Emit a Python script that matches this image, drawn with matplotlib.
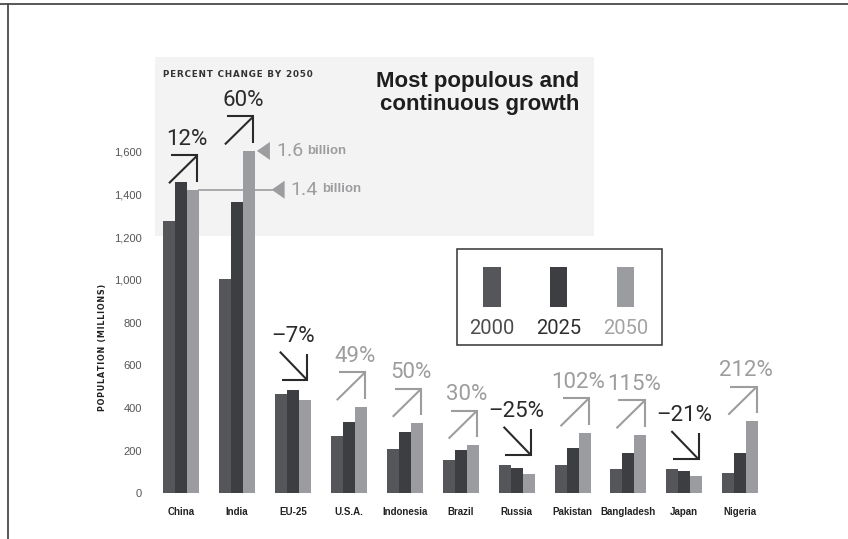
import numpy as np
import matplotlib.pyplot as plt
from matplotlib.patches import Rectangle, Polygon
from matplotlib.lines import Line2D
from matplotlib.transforms import ScaledTranslation

# population in millions
countries = ["China", "India", "EU-25", "U.S.A.", "Indonesia", "Brazil",
             "Russia", "Pakistan", "Bangladesh", "Japan", "Nigeria"]
years = ["2000", "2025", "2050"]
pop_2000 = [1276, 1003, 465, 270, 206, 157, 132, 131, 112, 112, 95]
pop_2025 = [1457, 1366, 484, 336, 285, 205, 116, 214, 188, 104, 190]
pop_2050 = [1423, 1605, 435, 406, 328, 226, 92, 284, 274, 80, 338]
pct_change = [12, 60, -7, 49, 50, 30, -25, 102, 115, -21, 212]
yticks = [0, 200, 400, 600, 800, 1000, 1200, 1400, 1600]

bar_colors = ["#55565a", "#3d3e42", "#9b9c9f"]
year_colors = ["#4c4c4e", "#2e2e30", "#a3a3a5"]
dark = "#2a2a2a"
light = "#9d9d9f"
W, H = 848, 539

fig = plt.figure(figsize=(W / 100, H / 100), dpi=100)
fig.patch.set_facecolor("white")

def fx(px):
    return px / W

def fy(py):
    return (H - py) / H

ax = fig.add_axes([fx(150), fy(499), fx(775) - fx(150), fy(40) - fy(499)])
ax.set_facecolor("none")
ax.set_xlim(-0.554, 10.62)
ax.set_ylim(-27, 2125)
for s in ax.spines.values():
    s.set_visible(False)

# grey panel behind the two giants
ax.add_patch(Rectangle((fx(155), fy(236)), fx(594) - fx(155), fy(57) - fy(236),
                       transform=fig.transFigure, facecolor="#f3f3f3",
                       edgecolor="none", zorder=0, clip_on=False))

x = np.arange(len(countries))
bw = 0.2145
series = [pop_2000, pop_2025, pop_2050]
for i, vals in enumerate(series):
    ax.bar(x + (i - 1) * bw, vals, width=bw, color=bar_colors[i], zorder=2)

ax.set_xticks(x)
ax.set_xticklabels(countries, fontsize=7, fontweight="bold", color="#222222",
                   family="Liberation Sans")
ax.set_yticks(yticks)
ax.set_yticklabels([f"{v:,}" for v in yticks], fontsize=8, color="#555555",
                   family="Liberation Sans")
ax.tick_params(length=0)
ax.tick_params(axis="x", pad=5.5)
ax.tick_params(axis="y", pad=6)

fig.text(fx(102.5), fy(347), "\u200a".join("POPULATION (MILLIONS)"), rotation=90,
         ha="center", va="center", fontsize=5.8, fontweight="bold", color="#222222")


def anchored(xd, yd):
    # offsets given in pixels/100 (inches) from a data point
    return fig.dpi_scale_trans + ScaledTranslation(xd, yd, ax.transData)


pct_font = dict(family=["Roboto", "DejaVu Sans"], fontweight="normal", fontsize=16)

for i, p in enumerate(pct_change):
    top = max(pop_2000[i], pop_2025[i], pop_2050[i])
    c = dark if (p < 0 or pop_2050[i] > 1000) else light
    if p >= 0:
        tr = anchored(x[i], pop_2050[i])
        shaft = [(-12, 6.5), (16.5, 34.5)]
        head = [(-10, 34.5), (16.5, 34.5), (16.5, 8)]
        tx, ty = 6, 45
    else:
        tr = anchored(x[i], top)
        shaft = [(-13, 38.3), (14.3, 10)]
        head = [(-11.3, 10), (14.3, 10), (14.3, 36)]
        tx, ty = 0, 48
    for pts in (shaft, head):
        xs = [q[0] / 100 for q in pts]
        ys = [q[1] / 100 for q in pts]
        ax.add_line(Line2D(xs, ys, transform=tr, color=c, lw=1.5,
                           solid_capstyle="butt", solid_joinstyle="miter",
                           clip_on=False, zorder=3))
    label = f"{p}%" if p >= 0 else f"\u2013{abs(p)}%"
    ax.text(tx / 100, ty / 100, label, transform=tr, ha="center", va="baseline",
            color=c, clip_on=False, **pct_font)


def billion_note(tip_dx, value, num, line_from=None):
    tr = anchored(x[1], value)
    tri = Polygon([(tip_dx / 100, 0), ((tip_dx + 13) / 100, 9 / 100),
                   ((tip_dx + 13) / 100, -9 / 100)], closed=True,
                  transform=tr, facecolor=light, edgecolor="none",
                  clip_on=False, zorder=3)
    ax.add_patch(tri)
    if line_from is not None:
        ax.plot([line_from, x[1] + tip_dx / 55.95], [value, value],
                color=light, lw=1.2, zorder=1.5, clip_on=False)
    t = ax.text((tip_dx + 19) / 100, 0, num, transform=tr, ha="left",
                va="center", color=light, clip_on=False,
                family=["Roboto", "DejaVu Sans"], fontweight="normal", fontsize=14)
    ax.annotate("billion", xy=(1, 0.18), xycoords=t, xytext=(3, 0),
                textcoords="offset points", ha="left", va="bottom",
                color=light, fontsize=9.5, fontweight="bold",
                family="Liberation Sans")


billion_note(20, pop_2050[1], f"{pop_2050[1] / 1000:.1f}")
billion_note(34.7, pop_2050[0], f"{pop_2050[0] / 1000:.1f}", line_from=x[0] + 1.5 * bw)

fig.text(fx(163), fy(74.3), "\u200a".join("PERCENT CHANGE BY 2050"),
         ha="left", va="center", fontsize=6.3, fontweight="bold", color="#333333")
fig.text(fx(579), fy(71), "Most populous and\ncontinuous growth", ha="right",
         va="top", multialignment="right", fontsize=16, fontweight="bold",
         color="#1e1e1e", family="Liberation Sans", linespacing=1.12)

# legend box
fig.patches.append(Rectangle((fx(457.3), fy(345)), fx(661.7) - fx(457.3),
                             fy(249.3) - fy(345), transform=fig.transFigure,
                             facecolor="white", edgecolor="#333333", lw=1.1,
                             zorder=4))
legend_font = dict(pct_font, fontsize=14.5)
for i, yr in enumerate(years):
    cx = 492 + i * 66.8
    fig.patches.append(Rectangle((fx(cx - 8.7), fy(306.7)), fx(17.4),
                                 fy(266.7) - fy(306.7), transform=fig.transFigure,
                                 facecolor=bar_colors[i], edgecolor="none",
                                 zorder=5))
    fig.text(fx(cx), fy(334), yr, ha="center", va="baseline", color=year_colors[i],
             zorder=6, **legend_font)

# frame lines along the top and left edges
fig.add_artist(Line2D([0, 1], [fy(3.5), fy(3.5)], transform=fig.transFigure,
                      color="#4a4a4a", lw=1.3))
fig.add_artist(Line2D([fx(7.5), fx(7.5)], [0, fy(3.5)], transform=fig.transFigure,
                      color="#4a4a4a", lw=1.3))

fig.savefig("out.png", dpi=100)
